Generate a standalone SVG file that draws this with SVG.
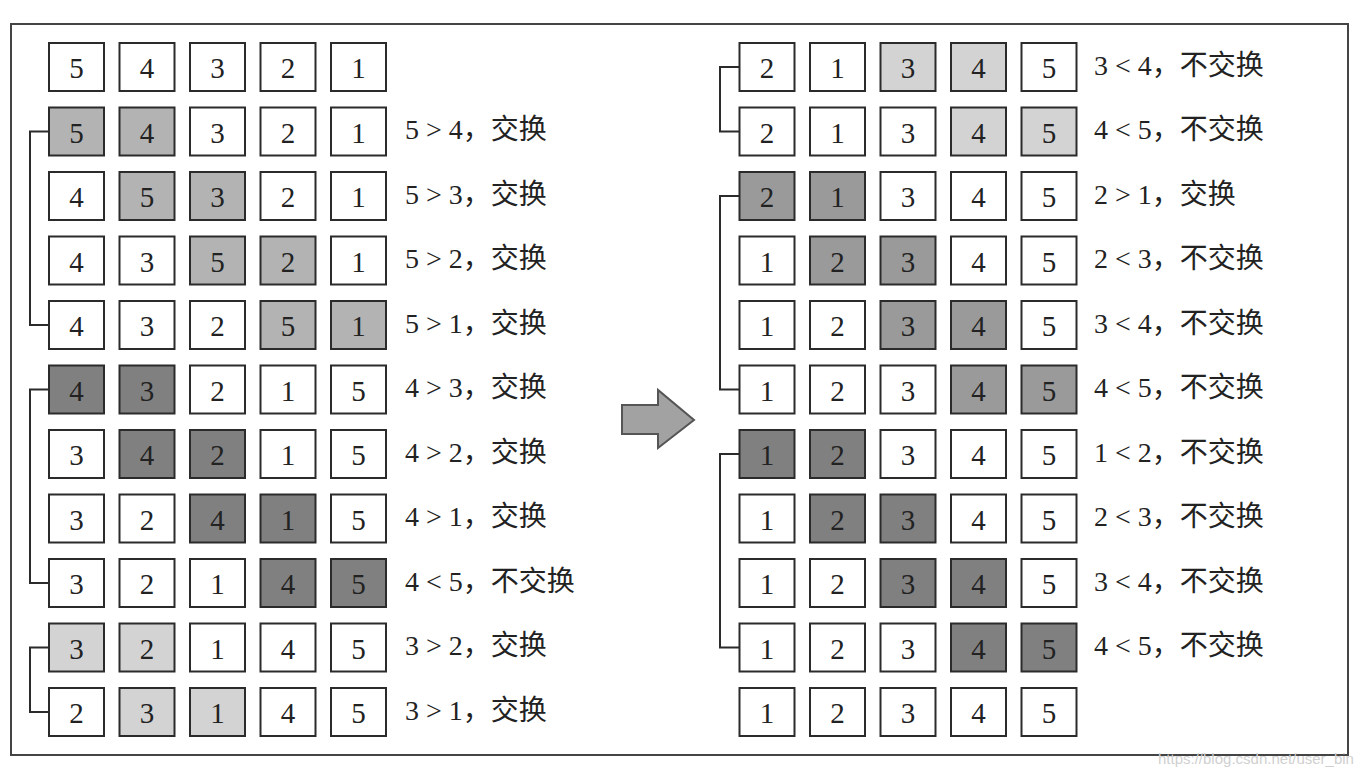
<svg xmlns="http://www.w3.org/2000/svg" width="1372" height="776" viewBox="0 0 1372 776">
<style>
rect.b{stroke:#2b2b2b;stroke-width:2}
.w{fill:#ffffff}.l{fill:#d3d3d3}.m{fill:#b3b3b3}.h{fill:#9a9a9a}.d{fill:#808080}
text{font-family:"Liberation Serif","Noto Sans CJK SC",serif;font-size:28px;fill:#222}
g.n text{text-anchor:middle;font-size:29px}
.br{fill:none;stroke:#2b2b2b;stroke-width:2}
</style>
<rect x="0" y="0" width="1372" height="776" fill="#ffffff"/>
<rect x="11" y="24" width="1337" height="731" fill="none" stroke="#444" stroke-width="2"/>
<g id="connectors">
<path class="br" d="M49,131.5H30V325H49"/>
<path class="br" d="M49,389.5H30V583H49"/>
<path class="br" d="M49,647.5H30V712H49"/>
<path class="br" d="M739.5,67H720V131.5H739.5"/>
<path class="br" d="M739.5,196H720V389.5H739.5"/>
<path class="br" d="M739.5,454H720V647.5H739.5"/>
</g>
<g id="arrow"><path d="M622,405H658V390L694,420L658,448V434H622Z" fill="#a2a2a2" stroke="#555" stroke-width="2"/></g>
<!-- left column -->
<g id="L0a" class="n" transform="translate(49,43)"><rect class="b w" width="55" height="48"/><text x="27.5" y="35">5</text></g>
<g id="L0b" class="n" transform="translate(119.5,43)"><rect class="b w" width="55" height="48"/><text x="27.5" y="35">4</text></g>
<g id="L0c" class="n" transform="translate(190,43)"><rect class="b w" width="55" height="48"/><text x="27.5" y="35">3</text></g>
<g id="L0d" class="n" transform="translate(260.5,43)"><rect class="b w" width="55" height="48"/><text x="27.5" y="35">2</text></g>
<g id="L0e" class="n" transform="translate(331,43)"><rect class="b w" width="55" height="48"/><text x="27.5" y="35">1</text></g>

<g id="L1a" class="n" transform="translate(49,107.5)"><rect class="b m" width="55" height="48"/><text x="27.5" y="35">5</text></g>
<g id="L1b" class="n" transform="translate(119.5,107.5)"><rect class="b m" width="55" height="48"/><text x="27.5" y="35">4</text></g>
<g id="L1c" class="n" transform="translate(190,107.5)"><rect class="b w" width="55" height="48"/><text x="27.5" y="35">3</text></g>
<g id="L1d" class="n" transform="translate(260.5,107.5)"><rect class="b w" width="55" height="48"/><text x="27.5" y="35">2</text></g>
<g id="L1e" class="n" transform="translate(331,107.5)"><rect class="b w" width="55" height="48"/><text x="27.5" y="35">1</text></g>
<text id="L1t" x="405" y="139">5 &gt; 4，交换</text>

<g id="L2a" class="n" transform="translate(49,172)"><rect class="b w" width="55" height="48"/><text x="27.5" y="35">4</text></g>
<g id="L2b" class="n" transform="translate(119.5,172)"><rect class="b m" width="55" height="48"/><text x="27.5" y="35">5</text></g>
<g id="L2c" class="n" transform="translate(190,172)"><rect class="b m" width="55" height="48"/><text x="27.5" y="35">3</text></g>
<g id="L2d" class="n" transform="translate(260.5,172)"><rect class="b w" width="55" height="48"/><text x="27.5" y="35">2</text></g>
<g id="L2e" class="n" transform="translate(331,172)"><rect class="b w" width="55" height="48"/><text x="27.5" y="35">1</text></g>
<text id="L2t" x="405" y="203.5">5 &gt; 3，交换</text>

<g id="L3a" class="n" transform="translate(49,236.5)"><rect class="b w" width="55" height="48"/><text x="27.5" y="35">4</text></g>
<g id="L3b" class="n" transform="translate(119.5,236.5)"><rect class="b w" width="55" height="48"/><text x="27.5" y="35">3</text></g>
<g id="L3c" class="n" transform="translate(190,236.5)"><rect class="b m" width="55" height="48"/><text x="27.5" y="35">5</text></g>
<g id="L3d" class="n" transform="translate(260.5,236.5)"><rect class="b m" width="55" height="48"/><text x="27.5" y="35">2</text></g>
<g id="L3e" class="n" transform="translate(331,236.5)"><rect class="b w" width="55" height="48"/><text x="27.5" y="35">1</text></g>
<text id="L3t" x="405" y="268">5 &gt; 2，交换</text>

<g id="L4a" class="n" transform="translate(49,301)"><rect class="b w" width="55" height="48"/><text x="27.5" y="35">4</text></g>
<g id="L4b" class="n" transform="translate(119.5,301)"><rect class="b w" width="55" height="48"/><text x="27.5" y="35">3</text></g>
<g id="L4c" class="n" transform="translate(190,301)"><rect class="b w" width="55" height="48"/><text x="27.5" y="35">2</text></g>
<g id="L4d" class="n" transform="translate(260.5,301)"><rect class="b m" width="55" height="48"/><text x="27.5" y="35">5</text></g>
<g id="L4e" class="n" transform="translate(331,301)"><rect class="b m" width="55" height="48"/><text x="27.5" y="35">1</text></g>
<text id="L4t" x="405" y="332.5">5 &gt; 1，交换</text>

<g id="L5a" class="n" transform="translate(49,365.5)"><rect class="b d" width="55" height="48"/><text x="27.5" y="35">4</text></g>
<g id="L5b" class="n" transform="translate(119.5,365.5)"><rect class="b d" width="55" height="48"/><text x="27.5" y="35">3</text></g>
<g id="L5c" class="n" transform="translate(190,365.5)"><rect class="b w" width="55" height="48"/><text x="27.5" y="35">2</text></g>
<g id="L5d" class="n" transform="translate(260.5,365.5)"><rect class="b w" width="55" height="48"/><text x="27.5" y="35">1</text></g>
<g id="L5e" class="n" transform="translate(331,365.5)"><rect class="b w" width="55" height="48"/><text x="27.5" y="35">5</text></g>
<text id="L5t" x="405" y="397">4 &gt; 3，交换</text>

<g id="L6a" class="n" transform="translate(49,430)"><rect class="b w" width="55" height="48"/><text x="27.5" y="35">3</text></g>
<g id="L6b" class="n" transform="translate(119.5,430)"><rect class="b d" width="55" height="48"/><text x="27.5" y="35">4</text></g>
<g id="L6c" class="n" transform="translate(190,430)"><rect class="b d" width="55" height="48"/><text x="27.5" y="35">2</text></g>
<g id="L6d" class="n" transform="translate(260.5,430)"><rect class="b w" width="55" height="48"/><text x="27.5" y="35">1</text></g>
<g id="L6e" class="n" transform="translate(331,430)"><rect class="b w" width="55" height="48"/><text x="27.5" y="35">5</text></g>
<text id="L6t" x="405" y="461.5">4 &gt; 2，交换</text>

<g id="L7a" class="n" transform="translate(49,494.5)"><rect class="b w" width="55" height="48"/><text x="27.5" y="35">3</text></g>
<g id="L7b" class="n" transform="translate(119.5,494.5)"><rect class="b w" width="55" height="48"/><text x="27.5" y="35">2</text></g>
<g id="L7c" class="n" transform="translate(190,494.5)"><rect class="b d" width="55" height="48"/><text x="27.5" y="35">4</text></g>
<g id="L7d" class="n" transform="translate(260.5,494.5)"><rect class="b d" width="55" height="48"/><text x="27.5" y="35">1</text></g>
<g id="L7e" class="n" transform="translate(331,494.5)"><rect class="b w" width="55" height="48"/><text x="27.5" y="35">5</text></g>
<text id="L7t" x="405" y="526">4 &gt; 1，交换</text>

<g id="L8a" class="n" transform="translate(49,559)"><rect class="b w" width="55" height="48"/><text x="27.5" y="35">3</text></g>
<g id="L8b" class="n" transform="translate(119.5,559)"><rect class="b w" width="55" height="48"/><text x="27.5" y="35">2</text></g>
<g id="L8c" class="n" transform="translate(190,559)"><rect class="b w" width="55" height="48"/><text x="27.5" y="35">1</text></g>
<g id="L8d" class="n" transform="translate(260.5,559)"><rect class="b d" width="55" height="48"/><text x="27.5" y="35">4</text></g>
<g id="L8e" class="n" transform="translate(331,559)"><rect class="b d" width="55" height="48"/><text x="27.5" y="35">5</text></g>
<text id="L8t" x="405" y="590.5">4 &lt; 5，不交换</text>

<g id="L9a" class="n" transform="translate(49,623.5)"><rect class="b l" width="55" height="48"/><text x="27.5" y="35">3</text></g>
<g id="L9b" class="n" transform="translate(119.5,623.5)"><rect class="b l" width="55" height="48"/><text x="27.5" y="35">2</text></g>
<g id="L9c" class="n" transform="translate(190,623.5)"><rect class="b w" width="55" height="48"/><text x="27.5" y="35">1</text></g>
<g id="L9d" class="n" transform="translate(260.5,623.5)"><rect class="b w" width="55" height="48"/><text x="27.5" y="35">4</text></g>
<g id="L9e" class="n" transform="translate(331,623.5)"><rect class="b w" width="55" height="48"/><text x="27.5" y="35">5</text></g>
<text id="L9t" x="405" y="655">3 &gt; 2，交换</text>

<g id="L10a" class="n" transform="translate(49,688)"><rect class="b w" width="55" height="48"/><text x="27.5" y="35">2</text></g>
<g id="L10b" class="n" transform="translate(119.5,688)"><rect class="b l" width="55" height="48"/><text x="27.5" y="35">3</text></g>
<g id="L10c" class="n" transform="translate(190,688)"><rect class="b l" width="55" height="48"/><text x="27.5" y="35">1</text></g>
<g id="L10d" class="n" transform="translate(260.5,688)"><rect class="b w" width="55" height="48"/><text x="27.5" y="35">4</text></g>
<g id="L10e" class="n" transform="translate(331,688)"><rect class="b w" width="55" height="48"/><text x="27.5" y="35">5</text></g>
<text id="L10t" x="405" y="719.5">3 &gt; 1，交换</text>

<!-- right column -->
<g id="R0a" class="n" transform="translate(739.5,43)"><rect class="b w" width="55" height="48"/><text x="27.5" y="35">2</text></g>
<g id="R0b" class="n" transform="translate(810,43)"><rect class="b w" width="55" height="48"/><text x="27.5" y="35">1</text></g>
<g id="R0c" class="n" transform="translate(880.5,43)"><rect class="b l" width="55" height="48"/><text x="27.5" y="35">3</text></g>
<g id="R0d" class="n" transform="translate(951,43)"><rect class="b l" width="55" height="48"/><text x="27.5" y="35">4</text></g>
<g id="R0e" class="n" transform="translate(1021.5,43)"><rect class="b w" width="55" height="48"/><text x="27.5" y="35">5</text></g>
<text id="R0t" x="1094" y="74.5">3 &lt; 4，不交换</text>

<g id="R1a" class="n" transform="translate(739.5,107.5)"><rect class="b w" width="55" height="48"/><text x="27.5" y="35">2</text></g>
<g id="R1b" class="n" transform="translate(810,107.5)"><rect class="b w" width="55" height="48"/><text x="27.5" y="35">1</text></g>
<g id="R1c" class="n" transform="translate(880.5,107.5)"><rect class="b w" width="55" height="48"/><text x="27.5" y="35">3</text></g>
<g id="R1d" class="n" transform="translate(951,107.5)"><rect class="b l" width="55" height="48"/><text x="27.5" y="35">4</text></g>
<g id="R1e" class="n" transform="translate(1021.5,107.5)"><rect class="b l" width="55" height="48"/><text x="27.5" y="35">5</text></g>
<text id="R1t" x="1094" y="139">4 &lt; 5，不交换</text>

<g id="R2a" class="n" transform="translate(739.5,172)"><rect class="b h" width="55" height="48"/><text x="27.5" y="35">2</text></g>
<g id="R2b" class="n" transform="translate(810,172)"><rect class="b h" width="55" height="48"/><text x="27.5" y="35">1</text></g>
<g id="R2c" class="n" transform="translate(880.5,172)"><rect class="b w" width="55" height="48"/><text x="27.5" y="35">3</text></g>
<g id="R2d" class="n" transform="translate(951,172)"><rect class="b w" width="55" height="48"/><text x="27.5" y="35">4</text></g>
<g id="R2e" class="n" transform="translate(1021.5,172)"><rect class="b w" width="55" height="48"/><text x="27.5" y="35">5</text></g>
<text id="R2t" x="1094" y="203.5">2 &gt; 1，交换</text>

<g id="R3a" class="n" transform="translate(739.5,236.5)"><rect class="b w" width="55" height="48"/><text x="27.5" y="35">1</text></g>
<g id="R3b" class="n" transform="translate(810,236.5)"><rect class="b h" width="55" height="48"/><text x="27.5" y="35">2</text></g>
<g id="R3c" class="n" transform="translate(880.5,236.5)"><rect class="b h" width="55" height="48"/><text x="27.5" y="35">3</text></g>
<g id="R3d" class="n" transform="translate(951,236.5)"><rect class="b w" width="55" height="48"/><text x="27.5" y="35">4</text></g>
<g id="R3e" class="n" transform="translate(1021.5,236.5)"><rect class="b w" width="55" height="48"/><text x="27.5" y="35">5</text></g>
<text id="R3t" x="1094" y="268">2 &lt; 3，不交换</text>

<g id="R4a" class="n" transform="translate(739.5,301)"><rect class="b w" width="55" height="48"/><text x="27.5" y="35">1</text></g>
<g id="R4b" class="n" transform="translate(810,301)"><rect class="b w" width="55" height="48"/><text x="27.5" y="35">2</text></g>
<g id="R4c" class="n" transform="translate(880.5,301)"><rect class="b h" width="55" height="48"/><text x="27.5" y="35">3</text></g>
<g id="R4d" class="n" transform="translate(951,301)"><rect class="b h" width="55" height="48"/><text x="27.5" y="35">4</text></g>
<g id="R4e" class="n" transform="translate(1021.5,301)"><rect class="b w" width="55" height="48"/><text x="27.5" y="35">5</text></g>
<text id="R4t" x="1094" y="332.5">3 &lt; 4，不交换</text>

<g id="R5a" class="n" transform="translate(739.5,365.5)"><rect class="b w" width="55" height="48"/><text x="27.5" y="35">1</text></g>
<g id="R5b" class="n" transform="translate(810,365.5)"><rect class="b w" width="55" height="48"/><text x="27.5" y="35">2</text></g>
<g id="R5c" class="n" transform="translate(880.5,365.5)"><rect class="b w" width="55" height="48"/><text x="27.5" y="35">3</text></g>
<g id="R5d" class="n" transform="translate(951,365.5)"><rect class="b h" width="55" height="48"/><text x="27.5" y="35">4</text></g>
<g id="R5e" class="n" transform="translate(1021.5,365.5)"><rect class="b h" width="55" height="48"/><text x="27.5" y="35">5</text></g>
<text id="R5t" x="1094" y="397">4 &lt; 5，不交换</text>

<g id="R6a" class="n" transform="translate(739.5,430)"><rect class="b d" width="55" height="48"/><text x="27.5" y="35">1</text></g>
<g id="R6b" class="n" transform="translate(810,430)"><rect class="b d" width="55" height="48"/><text x="27.5" y="35">2</text></g>
<g id="R6c" class="n" transform="translate(880.5,430)"><rect class="b w" width="55" height="48"/><text x="27.5" y="35">3</text></g>
<g id="R6d" class="n" transform="translate(951,430)"><rect class="b w" width="55" height="48"/><text x="27.5" y="35">4</text></g>
<g id="R6e" class="n" transform="translate(1021.5,430)"><rect class="b w" width="55" height="48"/><text x="27.5" y="35">5</text></g>
<text id="R6t" x="1094" y="461.5">1 &lt; 2，不交换</text>

<g id="R7a" class="n" transform="translate(739.5,494.5)"><rect class="b w" width="55" height="48"/><text x="27.5" y="35">1</text></g>
<g id="R7b" class="n" transform="translate(810,494.5)"><rect class="b d" width="55" height="48"/><text x="27.5" y="35">2</text></g>
<g id="R7c" class="n" transform="translate(880.5,494.5)"><rect class="b d" width="55" height="48"/><text x="27.5" y="35">3</text></g>
<g id="R7d" class="n" transform="translate(951,494.5)"><rect class="b w" width="55" height="48"/><text x="27.5" y="35">4</text></g>
<g id="R7e" class="n" transform="translate(1021.5,494.5)"><rect class="b w" width="55" height="48"/><text x="27.5" y="35">5</text></g>
<text id="R7t" x="1094" y="526">2 &lt; 3，不交换</text>

<g id="R8a" class="n" transform="translate(739.5,559)"><rect class="b w" width="55" height="48"/><text x="27.5" y="35">1</text></g>
<g id="R8b" class="n" transform="translate(810,559)"><rect class="b w" width="55" height="48"/><text x="27.5" y="35">2</text></g>
<g id="R8c" class="n" transform="translate(880.5,559)"><rect class="b d" width="55" height="48"/><text x="27.5" y="35">3</text></g>
<g id="R8d" class="n" transform="translate(951,559)"><rect class="b d" width="55" height="48"/><text x="27.5" y="35">4</text></g>
<g id="R8e" class="n" transform="translate(1021.5,559)"><rect class="b w" width="55" height="48"/><text x="27.5" y="35">5</text></g>
<text id="R8t" x="1094" y="590.5">3 &lt; 4，不交换</text>

<g id="R9a" class="n" transform="translate(739.5,623.5)"><rect class="b w" width="55" height="48"/><text x="27.5" y="35">1</text></g>
<g id="R9b" class="n" transform="translate(810,623.5)"><rect class="b w" width="55" height="48"/><text x="27.5" y="35">2</text></g>
<g id="R9c" class="n" transform="translate(880.5,623.5)"><rect class="b w" width="55" height="48"/><text x="27.5" y="35">3</text></g>
<g id="R9d" class="n" transform="translate(951,623.5)"><rect class="b d" width="55" height="48"/><text x="27.5" y="35">4</text></g>
<g id="R9e" class="n" transform="translate(1021.5,623.5)"><rect class="b d" width="55" height="48"/><text x="27.5" y="35">5</text></g>
<text id="R9t" x="1094" y="655">4 &lt; 5，不交换</text>

<g id="R10a" class="n" transform="translate(739.5,688)"><rect class="b w" width="55" height="48"/><text x="27.5" y="35">1</text></g>
<g id="R10b" class="n" transform="translate(810,688)"><rect class="b w" width="55" height="48"/><text x="27.5" y="35">2</text></g>
<g id="R10c" class="n" transform="translate(880.5,688)"><rect class="b w" width="55" height="48"/><text x="27.5" y="35">3</text></g>
<g id="R10d" class="n" transform="translate(951,688)"><rect class="b w" width="55" height="48"/><text x="27.5" y="35">4</text></g>
<g id="R10e" class="n" transform="translate(1021.5,688)"><rect class="b w" width="55" height="48"/><text x="27.5" y="35">5</text></g>

<text x="1158" y="764" style="font-family:'Liberation Sans',sans-serif;font-size:15px;fill:#d0d0d0">https://blog.csdn.net/user_bin</text>
</svg>
